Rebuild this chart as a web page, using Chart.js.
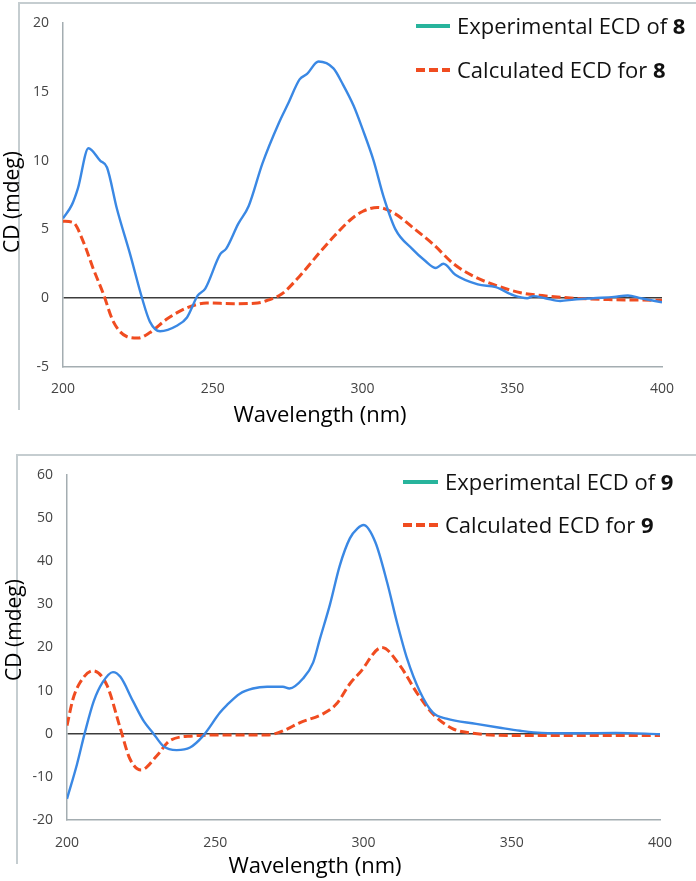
<!DOCTYPE html>
<html>
<head>
<meta charset="utf-8">
<script src="https://cdn.jsdelivr.net/npm/chart.js@4/dist/chart.umd.min.js"></script>
<style>
  body { margin: 0; background: #fff; }
  .wrap { position: absolute; left: 0; width: 696px; }
  .frame { position: absolute; border-top: 2px solid #c5cdd0; border-left: 2px solid #c5cdd0; }
</style>
</head>
<body>
<div class="frame" style="left:18px;top:2px;width:676px;height:406px"></div>
<div class="frame" style="left:16px;top:454px;width:678px;height:408px"></div>
<div class="wrap" style="top:0;height:440px"><canvas id="top"></canvas></div>
<div class="wrap" style="top:440px;height:441px"><canvas id="bottom"></canvas></div>
<script>
// compound 8
const exp8Nm = [200, 203, 205, 208.5, 212.4, 214.7, 218, 222.4, 226.4, 229, 232.4, 238, 241.4, 245, 247.5, 252.5, 254.5, 258.5, 262, 266.6, 272, 275.3, 279, 281.5, 285.3, 290.3, 293.3, 297, 300, 303.7, 307, 311, 316.5, 321, 324.5, 327, 331, 338.5, 344.5, 350.5, 355, 357, 361, 366, 370.6, 377, 384, 388.6, 393, 400];
const exp8Cd = [5.8, 6.8, 8.0, 10.9, 10.0, 9.5, 6.5, 3.2, 0, -1.7, -2.4, -2.0, -1.4, 0.2, 0.7, 3.2, 3.6, 5.4, 6.7, 9.8, 12.7, 14.2, 15.9, 16.3, 17.2, 16.7, 15.6, 14.0, 12.3, 10.0, 7.4, 5.0, 3.6, 2.7, 2.2, 2.5, 1.7, 1.0, 0.8, 0.2, 0.0, 0.15, 0, -0.2, -0.1, 0, 0.1, 0.2, 0, -0.3];
const calc8Nm = [200, 203.4, 206.8, 210, 213.5, 216.8, 221.4, 225, 229, 234.8, 241.4, 248, 257, 265, 269, 273, 279, 286, 290.5, 296, 300, 305, 310.4, 317, 323.7, 330.4, 337, 345, 352.8, 361.8, 370.6, 382, 400];
const calc8Cd = [5.6, 5.5, 4.1, 2.2, 0.3, -1.7, -2.8, -2.9, -2.5, -1.5, -0.7, -0.35, -0.4, -0.35, -0.1, 0.3, 1.6, 3.4, 4.5, 5.7, 6.3, 6.6, 6.2, 5.1, 3.9, 2.5, 1.6, 0.9, 0.4, 0.15, 0, -0.1, -0.15];

// compound 9
const exp9Nm = [200, 203.4, 206, 209, 212, 215.5, 218, 222.3, 226, 229, 232.4, 237, 241.5, 245.9, 251.6, 254, 258.3, 262.7, 267.5, 272.8, 275, 279.6, 283, 285.3, 288.7, 292, 295.4, 298, 300, 304, 308, 311.3, 314.7, 319, 323.4, 328, 338, 346, 352.8, 360, 372, 385, 400];
const exp9Cd = [-15.1, -7.0, 0.2, 7.5, 11.9, 14.3, 13.2, 7.5, 2.8, 0.2, -2.8, -3.8, -3.2, -0.5, 4.9, 6.7, 9.3, 10.5, 10.9, 10.9, 10.5, 12.8, 16.5, 22, 30, 39, 45.3, 47.6, 48.4, 44.4, 35, 25.8, 17.4, 9.8, 4.9, 3.5, 2.3, 1.4, 0.7, 0.2, 0.1, 0.2, -0.1];
const calc9Nm = [200, 202, 204.4, 208.8, 213.5, 218, 221.2, 225, 230.3, 234.7, 242.5, 250.6, 267.5, 273, 278.6, 286.3, 291, 295.4, 298.8, 306.2, 312.3, 318, 323.4, 330, 336, 350, 400];
const calc9Cd = [1.9, 8.0, 11.9, 14.6, 11.2, 1.2, -5.8, -8.4, -5.1, -1.6, -0.5, -0.3, -0.3, 0.7, 2.6, 4.6, 7.0, 11.6, 14.2, 20.0, 15.8, 9.5, 4.6, 1.2, 0.2, -0.4, -0.4];

const xTicks = [200, 250, 300, 350, 400];
const xTitle = 'Wavelength (nm)';
const yTitle = 'CD (mdeg)';

Chart.defaults.font.family = '"Open Sans", sans-serif';
Chart.defaults.color = '#444';

function points(nm, cd) {
    return nm.map((x, i) => ({x: x, y: cd[i]}));
}

// legend drawn inside the plot, last word of the label in bold
const ecdLegend = {
    id: 'ecdLegend',
    afterDraw(chart, args, opts) {
        const ctx = chart.ctx;
        ctx.save();
        chart.data.datasets.forEach((ds, i) => {
            const y = opts.y + i * opts.rowGap;
            ctx.strokeStyle = ds.legendColor || ds.borderColor;
            ctx.lineWidth = opts.lineWidth;
            ctx.setLineDash(ds.borderDash || []);
            ctx.beginPath();
            ctx.moveTo(opts.x, y);
            ctx.lineTo(opts.x + opts.sample, y);
            ctx.stroke();
            ctx.setLineDash([]);
            const words = ds.label.split(' ');
            const last = words.pop();
            const head = words.join(' ') + ' ';
            const base = y + opts.size * 0.357;
            let tx = opts.x + opts.sample + opts.gap;
            ctx.fillStyle = '#111';
            ctx.textBaseline = 'alphabetic';
            ctx.font = opts.size + 'px "Open Sans"';
            ctx.fillText(head, tx, base);
            tx += ctx.measureText(head).width;
            ctx.font = 'bold ' + opts.size + 'px "Open Sans"';
            ctx.fillText(last, tx, base);
        });
        ctx.restore();
    }
};

// axis titles sit a little off the plot centre in the original, so place them by hand
const axisTitles = {
    id: 'axisTitles',
    afterDraw(chart, args, opts) {
        const ctx = chart.ctx;
        ctx.save();
        ctx.fillStyle = '#000';
        ctx.textAlign = 'center';
        ctx.textBaseline = 'middle';
        ctx.font = opts.xSize + 'px "Open Sans"';
        ctx.fillText(xTitle, opts.xAt[0], opts.xAt[1]);
        ctx.translate(opts.yAt[0], opts.yAt[1]);
        ctx.rotate(-Math.PI / 2);
        ctx.font = opts.ySize + 'px "Open Sans"';
        ctx.fillText(yTitle, 0, 0);
        ctx.restore();
    }
};

function makeChart(id, compound, expData, calcData, cfg) {
    return new Chart(document.getElementById(id), {
        type: 'scatter',
        data: {
            datasets: [{
                label: 'Experimental ECD of ' + compound,
                data: expData,
                borderColor: '#3a88e4',
                legendColor: '#27b49c',
                borderWidth: 2.4,
                showLine: true,
                pointRadius: 0,
                cubicInterpolationMode: 'monotone'
            }, {
                label: 'Calculated ECD for ' + compound,
                data: calcData,
                borderColor: '#f04c20',
                borderWidth: 3,
                borderDash: [9, 4],
                showLine: true,
                pointRadius: 0,
                cubicInterpolationMode: 'monotone'
            }]
        },
        plugins: [ecdLegend, axisTitles],
        options: {
            responsive: true,
            maintainAspectRatio: false,
            animation: false,
            layout: {padding: {left: 0, right: cfg.padRight, top: cfg.padTop, bottom: 0}},
            plugins: {
                legend: {display: false},
                tooltip: {enabled: false},
                ecdLegend: cfg.legend,
                axisTitles: cfg.titles
            },
            scales: {
                x: {
                    type: 'linear',
                    min: 200,
                    max: 400,
                    afterBuildTicks: (scale) => {
                        scale.ticks = xTicks.map(v => ({value: v}));
                    },
                    afterFit: (scale) => { scale.height = cfg.xHeight; },
                    grid: {display: false, drawTicks: false},
                    border: {display: true, color: '#a4adb1', width: 1.5},
                    ticks: {padding: cfg.xTickPad, font: {size: 14}, maxRotation: 0}
                },
                y: {
                    min: cfg.yMin,
                    max: cfg.yMax,
                    afterFit: (scale) => { scale.width = cfg.yWidth; },
                    grid: {
                        drawTicks: false,
                        lineWidth: 1.5,
                        color: (c) => c.tick && c.tick.value === 0 ? '#3c3c3c' : 'rgba(0,0,0,0)'
                    },
                    border: {display: true, color: '#a4adb1', width: 1.5},
                    ticks: {stepSize: cfg.yStep, padding: 14, font: {size: 14}}
                }
            }
        }
    });
}

makeChart('top', '8', points(exp8Nm, exp8Cd), points(calc8Nm, calc8Cd), {
    yMin: -5, yMax: 20, yStep: 5,
    padTop: 23, padRight: 34, yWidth: 63, xHeight: 73,
    xTickPad: 14,
    titles: {xAt: [320, 416], yAt: [13, 202], xSize: 22, ySize: 21},
    legend: {x: 416, y: 26, rowGap: 44, sample: 34, gap: 7, lineWidth: 4, size: 22}
});

makeChart('bottom', '9', points(exp9Nm, exp9Cd), points(calc9Nm, calc9Cd), {
    yMin: -20, yMax: 60, yStep: 10,
    padTop: 35, padRight: 36, yWidth: 67, xHeight: 61,
    xTickPad: 15,
    titles: {xAt: [315, 427], yAt: [15, 190], xSize: 22, ySize: 21},
    legend: {x: 403, y: 42, rowGap: 43, sample: 35, gap: 7, lineWidth: 4, size: 22}
});
</script>
</body>
</html>
